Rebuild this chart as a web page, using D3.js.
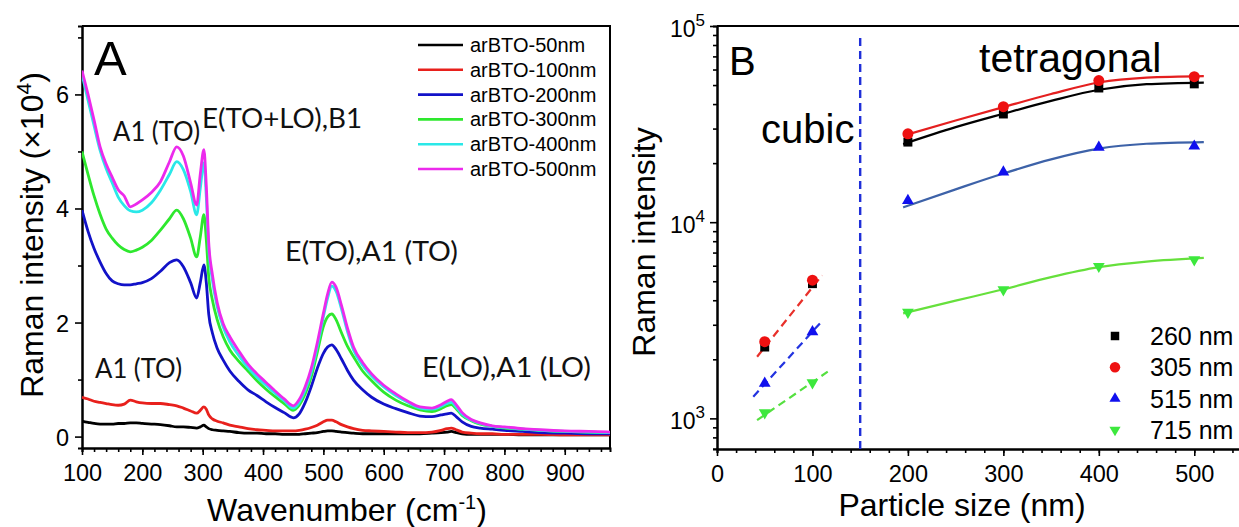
<!DOCTYPE html>
<html>
<head>
<meta charset="utf-8">
<script src="https://cdn.jsdelivr.net/npm/d3@7"></script>
<style>
  body { margin: 0; background: #fff; }
  svg { display: block; font-family: "Liberation Sans", Arial, sans-serif; }
</style>
</head>
<body>
<svg id="chart" width="1239" height="527"></svg>
<script>
// ---------- Panel A: Raman spectra (intensity in units of 10^4) ----------
const waveNumbers = [100,110,120,130,140,150,160,170,180,190,
  200,215,230,245,257,268,280,290,296,302,
  306,310,316,324,334,345,360,375,390,405,
  420,435,450,460,470,480,490,500,507,514,
  521,530,540,550,565,580,600,620,640,660,
  680,695,705,712,720,730,745,760,780,800,
  830,860,900,940,975];

const int50nm = [0.27,0.25,0.23,0.22,0.22,0.22,0.23,0.23,0.24,0.24,
  0.23,0.22,0.21,0.19,0.17,0.17,0.16,0.15,0.17,0.20,
  0.17,0.14,0.12,0.11,0.10,0.09,0.07,0.06,0.06,0.05,
  0.05,0.04,0.04,0.04,0.05,0.06,0.07,0.09,0.10,0.10,
  0.09,0.08,0.07,0.06,0.05,0.05,0.05,0.05,0.05,0.05,
  0.06,0.07,0.08,0.09,0.07,0.05,0.04,0.04,0.04,0.04,
  0.03,0.03,0.03,0.03,0.03];

const int100nm = [0.69,0.66,0.62,0.60,0.58,0.56,0.55,0.57,0.64,0.61,
  0.59,0.58,0.58,0.56,0.54,0.50,0.45,0.41,0.46,0.52,
  0.48,0.38,0.31,0.27,0.24,0.20,0.17,0.14,0.12,0.11,
  0.10,0.10,0.10,0.11,0.13,0.16,0.20,0.26,0.29,0.29,
  0.26,0.21,0.17,0.14,0.11,0.10,0.09,0.08,0.07,0.07,
  0.08,0.11,0.14,0.15,0.12,0.08,0.06,0.05,0.05,0.04,
  0.04,0.04,0.03,0.03,0.03];

const int200nm = [3.97,3.60,3.30,3.06,2.86,2.73,2.68,2.66,2.66,2.68,
  2.70,2.77,2.90,3.05,3.10,2.98,2.70,2.43,2.70,3.01,
  2.70,2.15,1.82,1.55,1.34,1.15,0.97,0.82,0.72,0.61,
  0.51,0.42,0.33,0.40,0.60,0.88,1.20,1.46,1.57,1.61,
  1.53,1.36,1.16,0.99,0.82,0.69,0.57,0.49,0.42,0.36,
  0.35,0.38,0.40,0.41,0.35,0.26,0.18,0.15,0.13,0.11,
  0.09,0.07,0.06,0.05,0.05];

const int300nm = [5.00,4.60,4.22,3.90,3.64,3.48,3.36,3.28,3.24,3.27,
  3.32,3.44,3.62,3.82,3.97,3.82,3.48,3.15,3.50,3.89,
  3.45,2.80,2.40,2.05,1.75,1.52,1.32,1.15,0.98,0.83,
  0.70,0.58,0.46,0.55,0.75,1.05,1.48,1.93,2.10,2.15,
  2.05,1.82,1.58,1.40,1.15,0.98,0.78,0.64,0.54,0.47,
  0.44,0.49,0.54,0.56,0.49,0.37,0.28,0.22,0.18,0.15,
  0.13,0.11,0.09,0.08,0.07];

const int400nm = [6.35,5.90,5.45,5.02,4.70,4.45,4.20,4.05,3.96,3.94,
  3.97,4.10,4.32,4.60,4.82,4.68,4.30,3.89,4.35,4.80,
  4.20,3.30,2.75,2.28,1.92,1.66,1.42,1.21,1.04,0.90,
  0.76,0.63,0.50,0.60,0.82,1.13,1.58,2.10,2.43,2.64,
  2.55,2.24,1.84,1.52,1.25,1.06,0.87,0.72,0.60,0.50,
  0.48,0.53,0.58,0.60,0.52,0.39,0.29,0.23,0.18,0.16,
  0.13,0.11,0.09,0.08,0.07];

const int500nm = [6.42,6.00,5.55,5.08,4.78,4.55,4.33,4.22,4.03,4.08,
  4.15,4.28,4.47,4.82,5.08,4.92,4.45,4.06,4.60,5.03,
  4.40,3.40,2.85,2.35,1.98,1.75,1.50,1.27,1.10,0.95,
  0.80,0.66,0.54,0.65,0.88,1.20,1.65,2.16,2.50,2.71,
  2.62,2.30,1.90,1.57,1.30,1.10,0.90,0.75,0.62,0.52,
  0.50,0.56,0.62,0.65,0.56,0.42,0.30,0.24,0.19,0.17,
  0.14,0.12,0.10,0.09,0.08];

const spectrumNames = ["arBTO-50nm","arBTO-100nm","arBTO-200nm","arBTO-300nm","arBTO-400nm","arBTO-500nm"];
const spectrumColors = ["#000000","#e8201c","#1212c8","#2ee82e","#2ae8e8","#ec2aec"];

const wnTicks = [100,200,300,400,500,600,700,800,900];
const intTicks = [0,2,4,6];

// ---------- Panel B: band intensity vs particle size ----------
const particleSizes = [50,100,200,300,400,500];
const band260 = [2310,4860,25600,35600,48300,50700];
const band305 = [2460,5060,28200,38800,52700,55200];
const band515 = [1510,2760,12900,18000,24100,24400];
const band715 = [1070,1520,3480,4530,5960,6440];

// smooth trend lines through the tetragonal points
const fitSizes = [195,250,300,350,400,450,510];
const fit260 = [25000,30500,35700,41500,47300,50500,51500];
const fit305 = [27600,33000,38600,45000,51500,54500,55500];
const fit515 = [11900,14700,17700,20900,23700,25100,25600];
const fit715 = [3430,3980,4550,5250,5900,6300,6580];

// dashed trends through the cubic points
const cubic305Sizes = [42,110];  const cubic305 = [2060,5360];
const cubic515Sizes = [38,111];  const cubic515 = [1290,3170];
const cubic715Sizes = [42,116];  const cubic715 = [980,1730];

const bandNames = ["260 nm","305 nm","515 nm","715 nm"];
const bandColors = ["#000000","#ee1111","#1010ee","#3de83d"];
const fitColors = ["#000000","#e41f1f","#3d62a8","#66e03c"];
const sizeTicks = [0,100,200,300,400,500];
const decadeTicks = [1e3,1e4,1e5];

// vibrational mode annotations
const modeNotes = ["A1 (TO)","E(TO+LO),B1","E(TO),A1 (TO)","E(LO),A1 (LO)","A1 (TO)"];

const svg = d3.select("#chart");
const FONT = '"Liberation Sans", Arial, sans-serif';
const NOTE_FONT = 'Lato, "Open Sans", sans-serif';

// ================= Panel A =================
const A = {left: 82, right: 610, top: 26, bottom: 448};
const xA = d3.scaleLinear().domain([100, 975]).range([A.left, A.right]);
const yA = d3.scaleLinear().domain([-0.2, 7.2]).range([A.bottom, A.top]);

function styleAxis(g) {
  g.select(".domain").attr("stroke", "#000").attr("stroke-width", 2);
  g.selectAll(".tick line").attr("stroke", "#000").attr("stroke-width", 1.6);
}

// minor ticks
svg.append("g").attr("transform", `translate(0,${A.bottom})`)
  .call(d3.axisBottom(xA).tickValues(d3.range(100, 975, 20)).tickSize(4).tickFormat(""))
  .call(styleAxis);
svg.append("g").attr("transform", `translate(${A.left},0)`)
  .call(d3.axisLeft(yA).tickValues([1,3,5,7]).tickSize(4).tickFormat(""))
  .call(styleAxis);

// major ticks + labels
const axAx = svg.append("g").attr("transform", `translate(0,${A.bottom})`)
  .call(d3.axisBottom(xA).tickValues(wnTicks).tickSize(7).tickSizeOuter(0).tickFormat(d3.format("d")))
  .call(styleAxis);
axAx.selectAll("text").attr("y", 33).attr("dy", 0).attr("font-size", 23.5).attr("font-family", FONT).attr("fill", "#000");

const ayAx = svg.append("g").attr("transform", `translate(${A.left},0)`)
  .call(d3.axisLeft(yA).tickValues(intTicks).tickSize(7).tickSizeOuter(0).tickFormat(d3.format("d")))
  .call(styleAxis);
ayAx.selectAll("text").attr("x", -13).attr("dy", "0.36em").attr("font-size", 23.5).attr("font-family", FONT).attr("fill", "#000");

// frame
svg.append("path")
  .attr("d", `M${A.left},${A.top}H${A.right}V${A.bottom}`)
  .attr("fill", "none").attr("stroke", "#000").attr("stroke-width", 2);

// spectra
svg.append("clipPath").attr("id", "clipA").append("rect")
  .attr("x", A.left).attr("y", A.top).attr("width", A.right - A.left).attr("height", A.bottom - A.top);

const lineA = d3.line().x(d => xA(d[0])).y(d => yA(d[1])).curve(d3.curveMonotoneX);
const spectra = [int50nm, int100nm, int200nm, int300nm, int400nm, int500nm];
const gSpec = svg.append("g").attr("clip-path", "url(#clipA)");
spectra.forEach((vals, i) => {
  const pts = waveNumbers.map((w, j) => [w, vals[j]]).filter(p => p[1] != null);
  gSpec.append("path").datum(pts)
    .attr("d", lineA)
    .attr("fill", "none")
    .attr("stroke", spectrumColors[i])
    .attr("stroke-width", 2.8)
    .attr("stroke-linejoin", "round");
});

// legend A
const legA = svg.append("g");
spectrumNames.forEach((name, i) => {
  const cy = 45 + i * 24.8;
  legA.append("line").attr("x1", 418).attr("x2", 463).attr("y1", cy).attr("y2", cy)
    .attr("stroke", spectrumColors[i]).attr("stroke-width", 2.6);
  legA.append("text").attr("x", 470).attr("y", cy + 7)
    .attr("font-size", 20).attr("font-family", FONT).text(name);
});

// panel letter and mode annotations
svg.append("text").attr("x", 94).attr("y", 75).attr("font-size", 49).attr("font-family", FONT).text("A");

const notePos = [
  {x: 113, y: 141, w: 87},
  {x: 202, y: 128, w: 160},
  {x: 285, y: 261, w: 173},
  {x: 422, y: 377, w: 169},
  {x: 95, y: 378, w: 87}
];
modeNotes.forEach((t, i) => {
  const p = notePos[i];
  svg.append("text").attr("x", p.x).attr("y", p.y)
    .attr("font-size", 26).attr("font-family", NOTE_FONT).attr("fill", "#111")
    .attr("textLength", p.w).attr("lengthAdjust", "spacingAndGlyphs")
    .text(t);
});

// axis titles A
const yTitleA = svg.append("text")
  .attr("transform", "translate(43,235) rotate(-90)")
  .attr("text-anchor", "middle").attr("font-size", 32).attr("font-family", FONT);
yTitleA.append("tspan").text("Raman intensity (\u00d710");
yTitleA.append("tspan").attr("dy", -12).attr("font-size", 21).text("4");
yTitleA.append("tspan").attr("dy", 12).text(")");

const xTitleA = svg.append("text")
  .attr("x", 347).attr("y", 521).attr("text-anchor", "middle")
  .attr("font-size", 32).attr("font-family", FONT);
xTitleA.append("tspan").text("Wavenumber (cm");
xTitleA.append("tspan").attr("dy", -12).attr("font-size", 20).text("-1");
xTitleA.append("tspan").attr("dy", 12).text(")");

// ================= Panel B =================
const B = {left: 717, right: 1242, top: 26, bottom: 449};
const xB = d3.scaleLinear().domain([0, 550]).range([B.left, B.right]);
const yB = d3.scaleLog().domain([698, 1e5]).range([B.bottom, B.top]);

svg.append("g").attr("transform", `translate(0,${B.bottom})`)
  .call(d3.axisBottom(xB).tickValues(d3.range(0, 551, 20)).tickSize(4).tickFormat(""))
  .call(styleAxis);

const minorLog = [];
[100, 1000, 10000].forEach(dec => { for (let k = 2; k <= 9; k++) { const v = k * dec; if (v >= 698 && v < 1e5) minorLog.push(v); } });
svg.append("g").attr("transform", `translate(${B.left},0)`)
  .call(d3.axisLeft(yB).tickValues(minorLog).tickSize(4).tickFormat(""))
  .call(styleAxis);

const bxAx = svg.append("g").attr("transform", `translate(0,${B.bottom})`)
  .call(d3.axisBottom(xB).tickValues(sizeTicks).tickSize(7).tickSizeOuter(0).tickFormat(d3.format("d")))
  .call(styleAxis);
bxAx.selectAll("text").attr("y", 33).attr("dy", 0).attr("font-size", 23.5).attr("font-family", FONT).attr("fill", "#000");

const byAx = svg.append("g").attr("transform", `translate(${B.left},0)`)
  .call(d3.axisLeft(yB).tickValues(decadeTicks).tickSize(7).tickSizeOuter(0).tickFormat(""))
  .call(styleAxis);
byAx.selectAll(".tick").each(function(d) {
  const t = d3.select(this).append("text")
    .attr("x", -12).attr("dy", "0.45em").attr("text-anchor", "end")
    .attr("font-size", 23).attr("font-family", FONT).attr("fill", "#000");
  t.append("tspan").text("10");
  t.append("tspan").attr("dy", -11).attr("font-size", 17).text(String(Math.round(Math.log10(d))));
});

svg.append("path")
  .attr("d", `M${B.left},${B.top}H${B.right}V${B.bottom}`)
  .attr("fill", "none").attr("stroke", "#000").attr("stroke-width", 2);

// phase boundary
svg.append("line")
  .attr("x1", xB(150)).attr("x2", xB(150)).attr("y1", B.top + 12).attr("y2", B.bottom)
  .attr("stroke", "#1f2fd8").attr("stroke-width", 2.4).attr("stroke-dasharray", "8,5");

// trend lines
const lineB = d3.line().x(d => xB(d[0])).y(d => yB(d[1])).curve(d3.curveMonotoneX);
const fits = [fit260, fit305, fit515, fit715];
fits.forEach((f, i) => {
  svg.append("path").datum(fitSizes.map((s, j) => [s, f[j]]))
    .attr("d", lineB).attr("fill", "none")
    .attr("stroke", fitColors[i]).attr("stroke-width", 2.2);
});
const cubicFits = [
  {s: cubic305Sizes, v: cubic305, c: "#e8302a"},
  {s: cubic515Sizes, v: cubic515, c: "#2233e0"},
  {s: cubic715Sizes, v: cubic715, c: "#55e040"}
];
cubicFits.forEach(cf => {
  svg.append("path").datum(cf.s.map((s, j) => [s, cf.v[j]]))
    .attr("d", lineB).attr("fill", "none")
    .attr("stroke", cf.c).attr("stroke-width", 2.2).attr("stroke-dasharray", "8,5");
});

// markers
const symbols = [
  {type: d3.symbolSquare, size: 80, rot: 0},
  {type: d3.symbolCircle, size: 95, rot: 0},
  {type: d3.symbolTriangle, size: 60, rot: 0},
  {type: d3.symbolTriangle, size: 60, rot: 180}
];
const bands = [band260, band305, band515, band715];
bands.forEach((vals, i) => {
  const sym = d3.symbol().type(symbols[i].type).size(symbols[i].size);
  svg.append("g").selectAll("path").data(particleSizes.map((s, j) => [s, vals[j]]))
    .join("path")
    .attr("d", sym)
    .attr("transform", d => `translate(${xB(d[0])},${yB(d[1])}) rotate(${symbols[i].rot})`)
    .attr("fill", bandColors[i]);
});

// legend B
bandNames.forEach((name, i) => {
  const cy = 336 + i * 31.3;
  const sym = d3.symbol().type(symbols[i].type).size(symbols[i].size * 0.9);
  svg.append("path").attr("d", sym)
    .attr("transform", `translate(1115,${cy}) rotate(${symbols[i].rot})`)
    .attr("fill", bandColors[i]);
  svg.append("text").attr("x", 1150).attr("y", cy + 9)
    .attr("font-size", 25).attr("font-family", FONT).text(name);
});

// labels in panel B
svg.append("text").attr("x", 729).attr("y", 75).attr("font-size", 40).attr("font-family", FONT).text("B");
svg.append("text").attr("x", 761).attr("y", 143).attr("font-size", 40).attr("font-family", FONT).text("cubic");
svg.append("text").attr("x", 979).attr("y", 72).attr("font-size", 41).attr("font-family", FONT).text("tetragonal");

svg.append("text")
  .attr("transform", "translate(655,242) rotate(-90)")
  .attr("text-anchor", "middle").attr("font-size", 32).attr("font-family", FONT)
  .text("Raman intensity");
svg.append("text")
  .attr("x", 962).attr("y", 516).attr("text-anchor", "middle")
  .attr("font-size", 32).attr("font-family", FONT)
  .text("Particle size (nm)");
</script>
</body>
</html>
